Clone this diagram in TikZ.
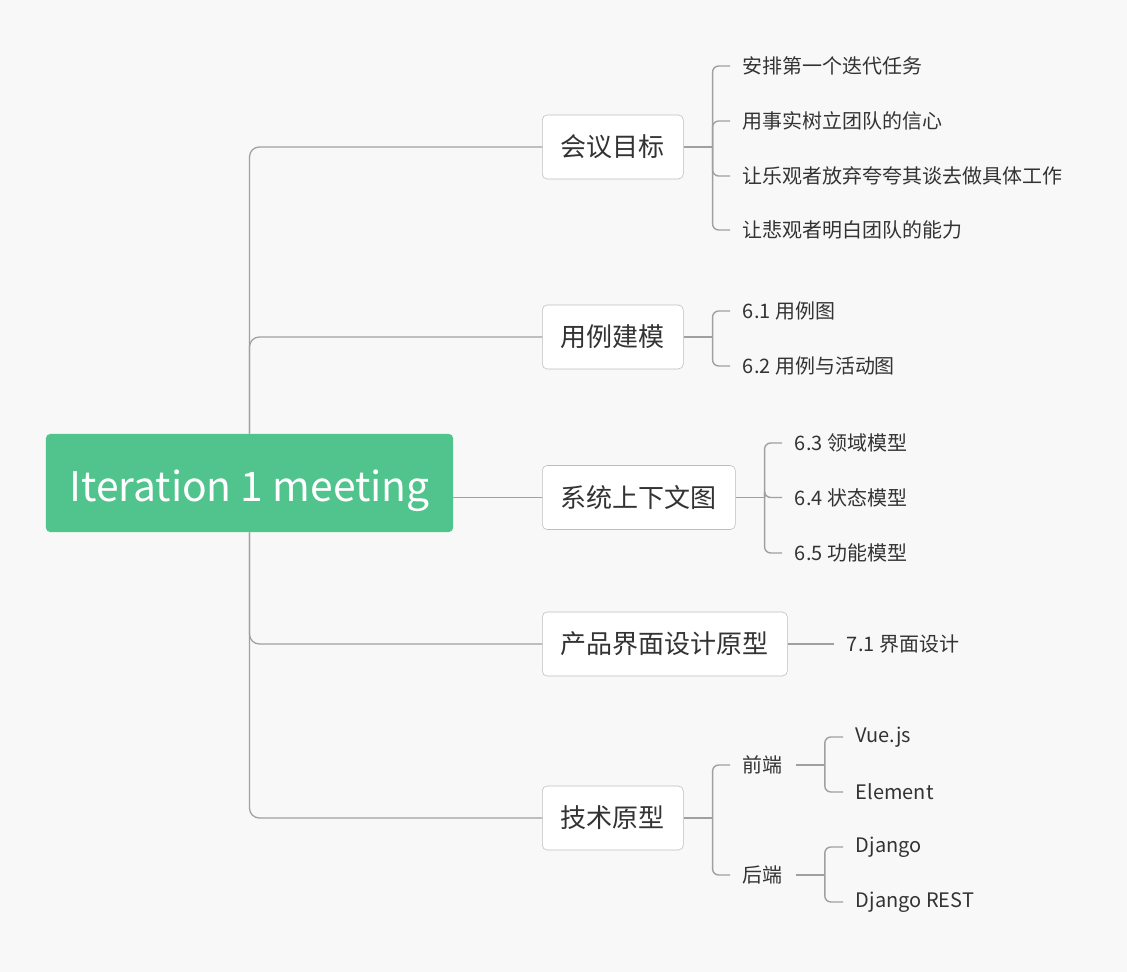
\documentclass[tikz,border=0pt]{standalone}
\usepackage{fontspec}
\setmainfont{Noto Sans CJK SC}
\usetikzlibrary{calc}

\definecolor{rootgreen}{RGB}{80,196,140}
\definecolor{canvas}{RGB}{248,248,248}
\definecolor{linegray}{RGB}{160,160,160}
\definecolor{boxgray}{RGB}{190,190,190}
\definecolor{textdark}{RGB}{51,51,51}

\tikzset{
  rootbox/.style={rectangle, rounded corners=3pt, fill=rootgreen, text=white, minimum width=10.175cm, minimum height=2.45cm, text height=25.6pt, text depth=0pt, font=\fontsize{29}{34}\selectfont},
  topic/.style={rectangle, rounded corners=3.5pt, draw=boxgray, fill=white, text=textdark, minimum height=1.6cm, anchor=west, inner sep=0pt, font=\fontsize{18.5}{22}\selectfont},
  leaf/.style={anchor=west, inner sep=0pt, outer xsep=9.2pt, text=textdark, font=\fontsize{14.2}{17}\selectfont},
  trunk/.style={draw=linegray, line width=0.9pt, rounded corners=7pt},
  twig/.style={draw=linegray, line width=1pt, rounded corners=4.3pt},
}

\begin{document}
\begin{tikzpicture}[x=0.025cm, y=-0.025cm]
\fill[canvas] (0,0) rectangle (1127,972);

% Central topic
\node[rootbox] (root) at (249.5,483) {Iteration 1 meeting};

% Main topics
\node[topic, minimum width=3.525cm] (goal) at (542,147) {会议目标};
\node[topic, minimum width=3.525cm] (usecase) at (542,337) {用例建模};
\node[topic, minimum width=4.825cm] (context) at (542,497.5) {系统上下文图};
\node[topic, minimum width=6.125cm] (ui) at (542,644) {产品界面设计原型};
\node[topic, minimum width=3.525cm] (tech) at (542,818) {技术原型};

% Subtopics
\node[leaf] (goal1) at (730,66) {安排第一个迭代任务};
\node[leaf] (goal2) at (730,121) {用事实树立团队的信心};
\node[leaf] (goal3) at (730,176) {让乐观者放弃夸夸其谈去做具体工作};
\node[leaf] (goal4) at (730,230) {让悲观者明白团队的能力};
\node[leaf] (uc1) at (730,311) {6.1 用例图};
\node[leaf] (uc2) at (730,366) {6.2 用例与活动图};
\node[leaf] (ctx1) at (782,443) {6.3 领域模型};
\node[leaf] (ctx2) at (782,497.5) {6.4 状态模型};
\node[leaf] (ctx3) at (782,553) {6.5 功能模型};
\node[leaf] (ui1) at (834,644) {7.1 界面设计};
\node[leaf] (front) at (730,765) {前端};
\node[leaf] (back) at (730,875) {后端};
\node[leaf] (vue) at (843,737) {Vue.js};
\node[leaf] (element) at (843,792) {Element};
\node[leaf] (django) at (843,847) {Django};
\node[leaf] (rest) at (843,902) {Django REST};

% Forks
\coordinate (goalfork) at ($(goal.east)+(29,0)$);
\coordinate (ucfork) at ($(usecase.east)+(29,0)$);
\coordinate (ctxfork) at ($(context.east)+(29,0)$);
\coordinate (techfork) at ($(tech.east)+(29,0)$);
\coordinate (frontfork) at ($(front.east)+(29,0)$);
\coordinate (backfork) at ($(back.east)+(29,0)$);

% Trunk lines
\draw[trunk] (root.north) |- (goal.west);
\draw[trunk] (root.north) |- (usecase.west);
\draw[trunk] (context.west) -- (context.west -| root.east);
\draw[trunk] (root.south) |- (ui.west);
\draw[trunk] (root.south) |- (tech.west);

% Branches
\draw[twig] (goal.east) -- (goalfork);
\foreach \leaf in {goal1,goal2,goal3,goal4}
  \draw[twig] (goalfork) |- (\leaf.west);
\draw[twig] (usecase.east) -- (ucfork);
\foreach \leaf in {uc1,uc2}
  \draw[twig] (ucfork) |- (\leaf.west);
\draw[twig] (context.east) -- (ctxfork);
\foreach \leaf in {ctx1,ctx2,ctx3}
  \draw[twig] (ctxfork) |- (\leaf.west);
\draw[twig] (ui.east) -- (ui1.west);
\draw[twig] (tech.east) -- (techfork);
\foreach \leaf in {front,back}
  \draw[twig] (techfork) |- (\leaf.west);
\draw[twig] (front.east) -- (frontfork);
\foreach \leaf in {vue,element}
  \draw[twig] (frontfork) |- (\leaf.west);
\draw[twig] (back.east) -- (backfork);
\foreach \leaf in {django,rest}
  \draw[twig] (backfork) |- (\leaf.west);
\end{tikzpicture}
\end{document}
